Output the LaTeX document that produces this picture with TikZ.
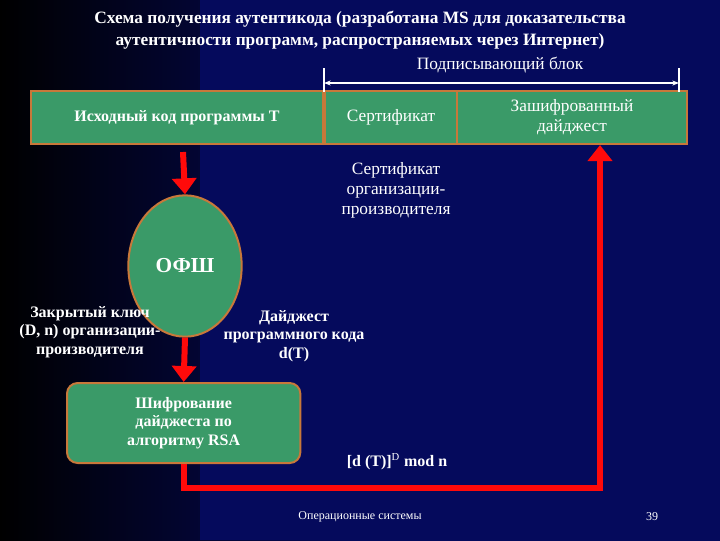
\documentclass[tikz,border=0pt]{standalone}
\usepackage{fontspec}
\setmainfont{Liberation Serif}
\usetikzlibrary{arrows.meta,shapes.geometric}
\definecolor{bg}{HTML}{050A5C}
\definecolor{gr}{HTML}{3A9A68}
\definecolor{orng}{HTML}{C8783A}
\definecolor{rd}{HTML}{FF0A0A}
\begin{document}
\begin{tikzpicture}[x=0.75pt,y=-0.75pt,
  lab/.style={text=white,font=\fontsize{12}{14}\selectfont\bfseries,align=center},
  labn/.style={text=white,font=\fontsize{13}{15}\selectfont,align=center},
  cell/.style={draw=orng,line width=1.5pt,fill=gr,minimum height=39.75pt,inner sep=0pt,anchor=north west},
  redarrow/.style={draw=rd,line width=4.5pt,-{Triangle[length=12pt,width=18pt]}}]
\fill[left color=black,right color=bg,middle color=bg] (0,0) rectangle (720,540);
\fill[bg] (200,0) rectangle (720,540);
\node[lab,font=\fontsize{13}{16}\selectfont\bfseries] (title) at (360,30) {Схема получения аутентикода (разработана MS для доказательства\\аутентичности программ, распространяемых через Интернет)};
\node[cell,minimum width=219pt] (src) at (30,90) {};
\node[lab] at (src.center) {Исходный код программы T};
\node[cell,minimum width=99pt] (cert) at (324,90) {};
\node[labn] at (cert.center) {Сертификат};
\node[cell,minimum width=172.5pt] (dig) at (456,90) {};
\node[labn] at (dig.center) {Зашифрованный\\дайджест};
\draw[white,line width=0.8pt] (324,68) -- (324,92) (679,68) -- (679,92);
\draw[white,line width=1pt,{Stealth[length=5pt]}-{Stealth[length=5pt]}] (324,83) -- (679,83);
\node[labn] (sig) at (500,65) {Подписывающий блок};
\node[draw=orng,line width=1.5pt,fill=gr,ellipse,minimum width=85pt,minimum height=106pt,inner sep=0pt] (ofsh) at (185,266) {};
\node[lab,font=\fontsize{16}{18}\selectfont\bfseries] at (ofsh.center) {ОФШ};
\node[draw=orng,line width=1.5pt,fill=gr,rounded corners=8pt,minimum width=175pt,minimum height=60pt,inner sep=0pt,anchor=north west] (rsa) at (66,382) {};
\node[lab] at (rsa.center) {Шифрование\\дайджеста по\\алгоритму RSA};
\node[labn] (c2) at (396,190) {Сертификат\\организации-\\производителя};
\node[lab] (key) at (90,332) {Закрытый ключ\\(D, n) организации-\\производителя};
\node[lab] (dd) at (294,336) {Дайджест\\программного кода\\d(T)};
\node[lab] (mod) at (397,462) {[d (T)]$^{\mathrm{D}}$ mod n};
\coordinate (start) at (183,152);
\coordinate (turn) at (600,488);
\draw[redarrow] (start) -- (ofsh.north);
\draw[redarrow] (ofsh.south) -- (rsa.north);
\draw[redarrow] (rsa.south) |- (turn) -- (turn |- dig.south);
\node[text=white,font=\fontsize{9}{11}\selectfont] (foot) at (360,517) {Операционные системы};
\node[text=white,font=\fontsize{9}{11}\selectfont] (pg) at (652,517) {39};
\end{tikzpicture}
\end{document}
